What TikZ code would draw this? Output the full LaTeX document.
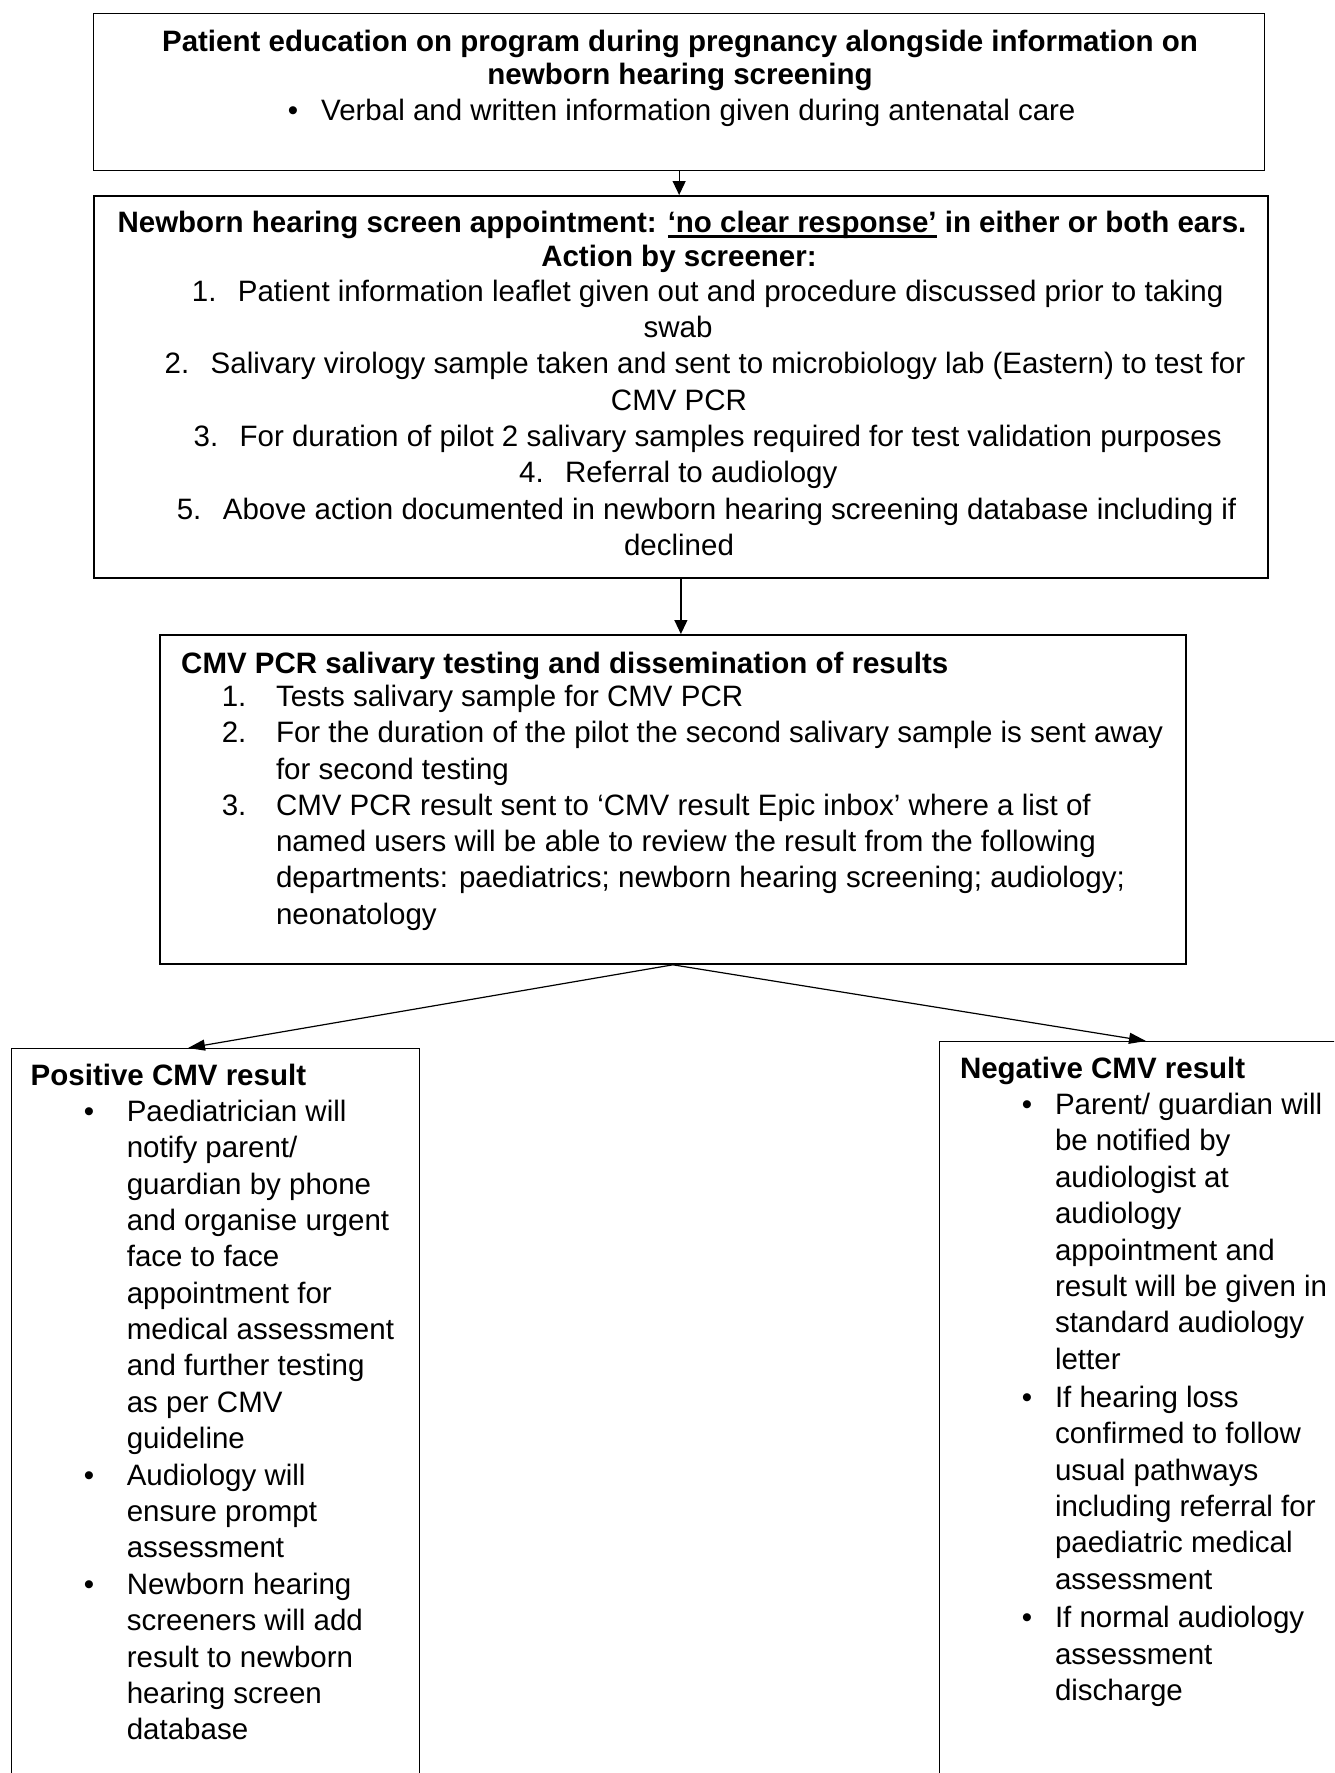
\documentclass[tikz,border=0pt]{standalone}
\usepackage{fontspec}
\setmainfont{Liberation Sans}
\usetikzlibrary{arrows.meta,calc}
\newcommand\fs{\fontsize{29.5}{36.35}\selectfont}
\newcommand\blk[1]{\parbox[t]{1000pt}{\fs\raggedright #1}}
\newcommand\myul[1]{\setbox0=\hbox{#1}\rlap{\rule[-6pt]{\wd0}{2.8pt}}\box0\relax}
\newcommand\nmA[1]{\makebox[46pt][l]{#1}}
\begin{document}
\begin{tikzpicture}[x=1pt,y=-1pt,
  box/.style={draw, inner sep=0pt, anchor=north west},
  txt/.style={inner sep=0pt, anchor=base west, font=\fs},
  ctxt/.style={inner sep=0pt, anchor=base, font=\fs},
  btxt/.style={inner sep=0pt, anchor=base west, font=\fs\bfseries},
  cbtxt/.style={inner sep=0pt, anchor=base, font=\fs\bfseries},
  bul/.style={inner sep=0pt, anchor=base, font=\fs},
  arr/.style={-{Triangle[length=14pt,width=13pt]}, line width=1.2pt},
  arrs/.style={-{Triangle[length=17pt,width=11pt]}, line width=1.2pt}]
\path[use as bounding box, clip] (0,0) rectangle (1334,1773);
\fill[white] (0,0) rectangle (1334,1773);

% boxes
\node[box, line width=1.3pt, minimum width=1171pt, minimum height=157pt] (b1) at (93,13) {};
\node[box, line width=1.8pt, minimum width=1174pt, minimum height=382pt] (b2) at (93,195) {};
\node[box, line width=1.8pt, minimum width=1026pt, minimum height=329pt] (b3) at (159,634) {};
\node[box, line width=1pt, minimum width=408pt, minimum height=800pt] (b4) at (11,1048) {};
\node[box, line width=1pt, minimum width=440pt, minimum height=800pt] (b5) at (939,1041) {};

% connectors
\draw[arr] (b1.south) -- (b1.south |- b2.north);
\draw[arr] (b2.south) -- (b2.south |- b3.north);
\coordinate (t4) at ($(b4.north west)+(177,0)$);
\coordinate (t5) at ($(b5.north west)+(207,0)$);
\draw[arrs] (b3.south) -- (t4);
\draw[arrs] (b3.south) -- (t5);

% box 1
\node[cbtxt] (a1) at (680,51) {Patient education on program during pregnancy alongside information on};
\node[cbtxt] (a2) at (680,84) {newborn hearing screening};
\node[bul] (a3b) at (293,120) {\textbullet};
\node[txt] (a3) at (321,120) {Verbal and written information given during antenatal care};

% box 2
\node[cbtxt] (c1) at (682,232) {Newborn hearing screen appointment: \myul{‘no clear response’} in either or both ears.};
\node[cbtxt] (c2) at (679,266) {Action by screener:};
\node[ctxt] (c3) at (707.7,301) {\nmA{1.}Patient information leaflet given out and procedure discussed prior to taking};
\node[ctxt] (c4) at (678,337.3) {swab};
\node[ctxt] (c5) at (705,373.6) {\nmA{2.}Salivary virology sample taken and sent to microbiology lab (Eastern) to test for};
\node[ctxt] (c6) at (679,410) {CMV PCR};
\node[ctxt] (c7) at (707.7,446.3) {\nmA{3.}For duration of pilot 2 salivary samples required for test validation purposes};
\node[ctxt] (c8) at (678.3,482.6) {\nmA{4.}Referral to audiology};
\node[ctxt] (c9) at (706.6,519) {\nmA{5.}Above action documented in newborn hearing screening database including if};
\node[ctxt] (c10) at (679,555.3) {declined};

% box 3
\node[btxt] (d0) at (181,673) {CMV PCR salivary testing and dissemination of results};
\node[txt] (d1n) at (221.6,706.5) {1.};
\node[txt] (d1) at (275.8,706.5) {Tests salivary sample for CMV PCR};
\node[txt] (d2n) at (221.6,742.7) {2.};
\node[txt] (d2) at (275.8,742.7) {\blk{For the duration of the pilot the second salivary sample is sent away\\for second testing}};
\node[txt] (d3n) at (221.6,815.1) {3.};
\node[txt] (d3) at (275.8,815.1) {\blk{CMV PCR result sent to ‘CMV result Epic inbox’ where a list of\\named users will be able to review the result from the following\\departments: paediatrics; newborn hearing screening; audiology;\\neonatology}};

% box 4 (positive)
\node[btxt] (e0) at (30.5,1085) {Positive CMV result};
\node[bul] (e1b) at (89,1121.4) {\textbullet};
\node[txt] (e1) at (126.6,1121.4) {\blk{Paediatrician will\\notify parent/\\guardian by phone\\and organise urgent\\face to face\\appointment for\\medical assessment\\and further testing\\as per CMV\\guideline}};
\node[bul] (e2b) at (89,1485.2) {\textbullet};
\node[txt] (e2) at (126.6,1485.2) {\blk{Audiology will\\ensure prompt\\assessment}};
\node[bul] (e3b) at (89,1594.3) {\textbullet};
\node[txt] (e3) at (126.6,1594.3) {\blk{Newborn hearing\\screeners will add\\result to newborn\\hearing screen\\database}};

% box 5 (negative)
\node[btxt] (f0) at (959.8,1078.5) {Negative CMV result};
\node[bul] (f1b) at (1027,1114.6) {\textbullet};
\node[txt] (f1) at (1054.8,1114.6) {\blk{Parent/ guardian will\\be notified by\\audiologist at\\audiology\\appointment and\\result will be given in\\standard audiology\\letter}};
\node[bul] (f2b) at (1027,1407.4) {\textbullet};
\node[txt] (f2) at (1054.8,1407.4) {\blk{If hearing loss\\confirmed to follow\\usual pathways\\including referral for\\paediatric medical\\assessment}};
\node[bul] (f3b) at (1027,1627.9) {\textbullet};
\node[txt] (f3) at (1054.8,1627.9) {\blk{If normal audiology\\assessment\\discharge}};
\end{tikzpicture}
\end{document}
